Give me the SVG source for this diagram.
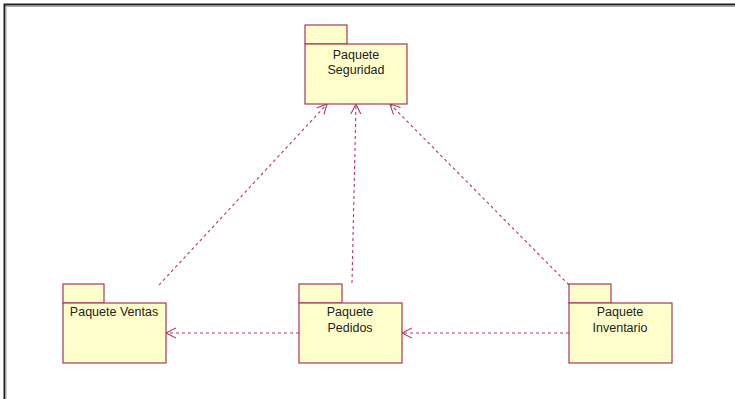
<svg xmlns="http://www.w3.org/2000/svg" width="735" height="399" viewBox="0 0 735 399">
<style>
.pk{fill:#ffffcc;stroke:#a8385a;stroke-width:1.2}
.t{font-family:"Liberation Sans",Arial,sans-serif;font-size:12.5px;fill:#222;text-anchor:middle}
.c{fill:none;stroke:#b03868;stroke-width:1.1;stroke-dasharray:3,3}
</style>
<defs>
<marker id="open" markerWidth="12" markerHeight="12" refX="10" refY="5" orient="auto" markerUnits="userSpaceOnUse" viewBox="0 0 12 10">
<path d="M0,0 L10,5 L0,10" fill="none" stroke="#b03868" stroke-width="1.1"/>
</marker>
</defs>
<rect width="735" height="399" fill="#fff"/>
<path d="M4.5,399 V4.5 H735" fill="none" stroke="#1a2228" stroke-width="2"/>
<path d="M6,399 V6.5 H735" fill="none" stroke="#aaa" stroke-width="1"/>
<g id="connectors">
<line class="c" x1="159" y1="285" x2="327" y2="104" marker-end="url(#open)"/>
<line class="c" x1="352" y1="283" x2="356" y2="104" marker-end="url(#open)"/>
<line class="c" x1="569" y1="285" x2="390" y2="104" marker-end="url(#open)"/>
<line class="c" x1="299" y1="333" x2="166" y2="333" marker-end="url(#open)"/>
<line class="c" x1="569" y1="333" x2="402" y2="333" marker-end="url(#open)"/>
</g>
<g id="seguridad">
<rect class="pk" x="305" y="25" width="42" height="19"/>
<rect class="pk" x="305" y="44" width="102" height="60"/>
<text class="t" x="356" y="59">Paquete</text>
<text class="t" x="356" y="74">Seguridad</text>
</g>
<g id="ventas">
<rect class="pk" x="63" y="284" width="41" height="19"/>
<rect class="pk" x="63" y="303" width="103" height="60"/>
<text class="t" x="114" y="316">Paquete Ventas</text>
</g>
<g id="pedidos">
<rect class="pk" x="299" y="284" width="43" height="19"/>
<rect class="pk" x="299" y="303" width="103" height="60"/>
<text class="t" x="350" y="316">Paquete</text>
<text class="t" x="350" y="332">Pedidos</text>
</g>
<g id="inventario">
<rect class="pk" x="569" y="284" width="42" height="19"/>
<rect class="pk" x="569" y="303" width="103" height="60"/>
<text class="t" x="620" y="316">Paquete</text>
<text class="t" x="620" y="332">Inventario</text>
</g>
</svg>
